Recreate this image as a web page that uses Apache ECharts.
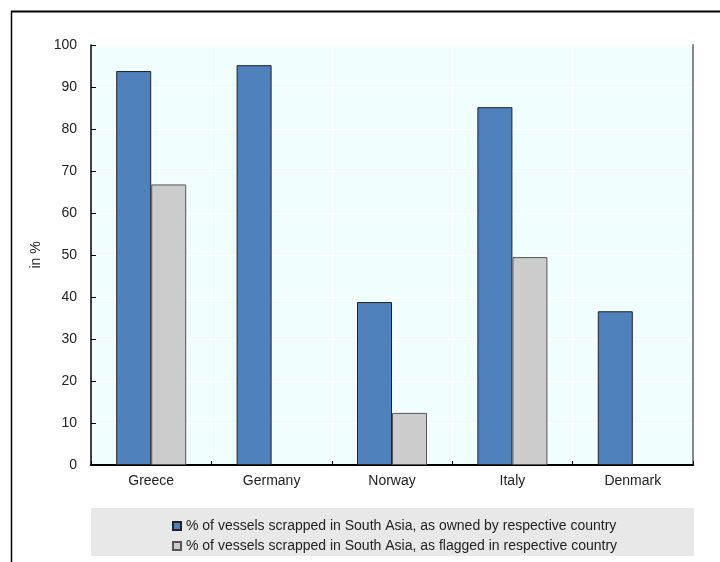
<!DOCTYPE html>
<html>
<head>
<meta charset="utf-8">
<script src="https://cdn.jsdelivr.net/npm/echarts@6/dist/echarts.min.js"></script>
<style>
  html, body { margin: 0; padding: 0; background: #ffffff; }
  #chart { width: 720px; height: 562px; }
</style>
</head>
<body>
<div id="chart"></div>
<script>
// Ship-breaking share by country (in %)
const countries = ['Greece', 'Germany', 'Norway', 'Italy', 'Denmark'];
const ownedShare = [93.8, 95.2, 38.8, 85.2, 36.6];
const flaggedShare = [66.8, null, 12.4, 49.5, null];
const seriesNames = [
  '% of vessels scrapped in South Asia, as owned by respective country',
  '% of vessels scrapped in South Asia, as flagged in respective country'
];
const yTicks = { min: 0, max: 100, interval: 10 };

const FONT = '"Liberation Sans Narrow", "Liberation Sans", Arial, sans-serif';
const chart = echarts.init(document.getElementById('chart'), null, { renderer: 'canvas' });

// one legend row per series, stacked inside the grey panel
function legendRow(name, top) {
  return {
    orient: 'horizontal',
    left: 167,
    top: top,
    itemWidth: 8,
    itemHeight: 8,
    icon: 'rect',
    textStyle: { fontFamily: FONT, fontSize: 14, color: '#222', padding: [0, 0, 0, 0] },
    data: [name]
  };
}

chart.setOption({
  animation: false,
  backgroundColor: '#ffffff',
  textStyle: { fontFamily: FONT, color: '#222' },
  graphic: [
    // outer frame (top and left edges)
    { type: 'line', shape: { x1: 11, y1: 11.5, x2: 720, y2: 11.5 }, style: { stroke: '#000', lineWidth: 2 } },
    { type: 'line', shape: { x1: 11.5, y1: 11, x2: 11.5, y2: 562 }, style: { stroke: '#000', lineWidth: 1.5 } },
    // legend panel
    { type: 'rect', z: -1, shape: { x: 91, y: 508, width: 603, height: 48 }, style: { fill: '#e8e8e8' } }
  ],
  grid: { left: 91, top: 45, right: 27, bottom: 97, show: true, backgroundColor: '#f1fefe', borderWidth: 0 },
  legend: [legendRow(seriesNames[0], 514), legendRow(seriesNames[1], 534)],
  xAxis: [
    {
      type: 'category',
      data: countries,
      axisLine: { lineStyle: { color: '#000', width: 2 } },
      axisTick: { show: true, inside: true, length: 4, lineStyle: { color: '#000' } },
      axisLabel: { fontFamily: FONT, fontSize: 14, color: '#222', margin: 9 },
      splitLine: { show: true, lineStyle: { color: '#ffffff', width: 1 } }
    },
    {
      type: 'category',
      position: 'top',
      data: countries,
      axisLine: { lineStyle: { color: '#000', width: 2 } },
      axisTick: { show: false },
      axisLabel: { show: false },
      splitLine: { show: false }
    }
  ],
  yAxis: [
    {
      type: 'value',
      min: yTicks.min,
      max: yTicks.max,
      interval: yTicks.interval,
      name: 'in %',
      nameLocation: 'middle',
      nameGap: 44,
      nameTextStyle: { fontFamily: FONT, fontSize: 14, color: '#222' },
      axisLine: { show: true, lineStyle: { color: '#000', width: 1.5 } },
      axisTick: { show: true, inside: true, length: 5, lineStyle: { color: '#000' } },
      axisLabel: { fontFamily: FONT, fontSize: 14, color: '#222', margin: 14 },
      splitLine: { show: true, lineStyle: { color: '#ffffff', width: 1 } }
    },
    {
      type: 'value',
      position: 'right',
      min: yTicks.min,
      max: yTicks.max,
      interval: yTicks.interval,
      axisLine: { show: true, lineStyle: { color: '#888', width: 2 } },
      axisTick: { show: false },
      axisLabel: { show: false },
      splitLine: { show: false }
    }
  ],
  series: [
    {
      name: seriesNames[0],
      type: 'bar',
      data: ownedShare,
      barWidth: 35,
      barGap: '0%',
      itemStyle: { color: '#4f81bd', borderColor: '#222', borderWidth: 1 }
    },
    {
      name: seriesNames[1],
      type: 'bar',
      data: flaggedShare,
      barWidth: 35,
      barGap: '0%',
      itemStyle: { color: '#cccccc', borderColor: '#555', borderWidth: 1 }
    }
  ]
});
</script>
</body>
</html>
